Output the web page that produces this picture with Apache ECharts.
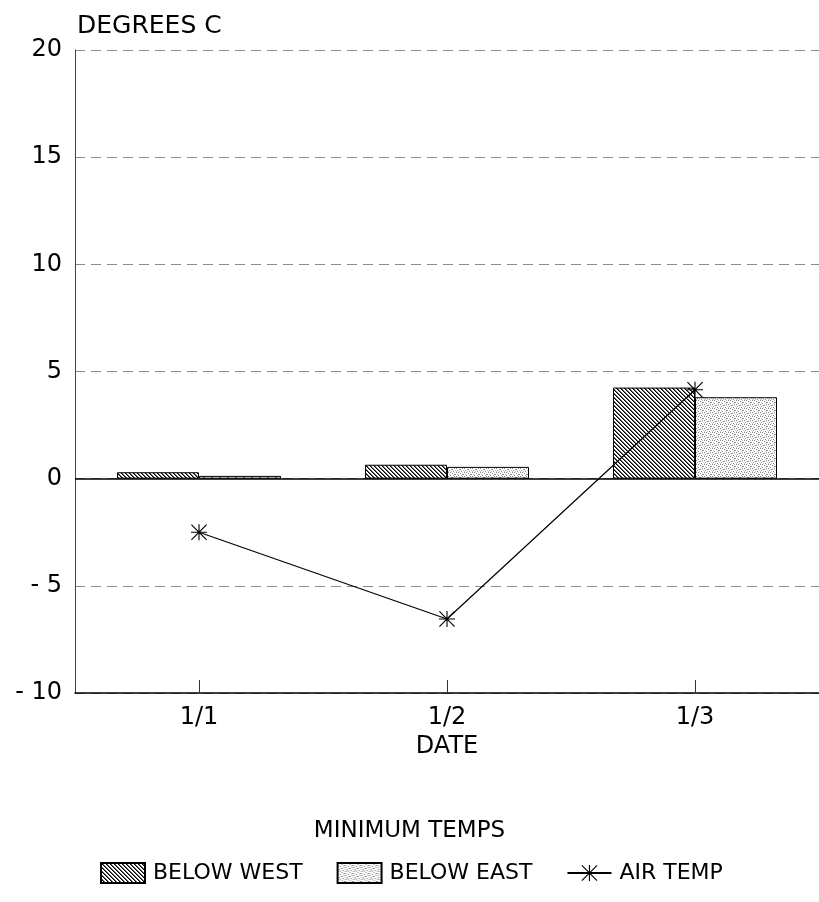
<!DOCTYPE html>
<html>
<head>
<meta charset="utf-8">
<script src="https://cdn.jsdelivr.net/npm/echarts@6/dist/echarts.min.js"></script>
<style>
html,body{margin:0;padding:0;background:#fff;}
#chart{width:819px;height:902px;}
</style>
</head>
<body>
<div id="chart"></div>
<script>
const categories = ['1/1', '1/2', '1/3'];
const belowWest = [0.3, 0.65, 4.25];
const belowEast = [0.13, 0.55, 3.8];
const airTemp = [-2.5, -6.55, 4.15];
const seriesNames = ['BELOW WEST', 'BELOW EAST', 'AIR TEMP'];
const yMin = -10, yMax = 20, yStep = 5;

function hatchPattern() {
  const c = document.createElement('canvas');
  c.width = 4; c.height = 4;
  const g = c.getContext('2d');
  g.fillStyle = '#fff'; g.fillRect(0, 0, 4, 4);
  for (let i = 0; i < 4; i++) {
    g.fillStyle = '#000'; g.fillRect(i, i, 1, 1);
    g.fillStyle = '#666'; g.fillRect((i + 1) % 4, i, 1, 1);
  }
  return c;
}
function stipplePattern() {
  const c = document.createElement('canvas');
  c.width = 8; c.height = 8;
  const g = c.getContext('2d');
  g.fillStyle = '#fff'; g.fillRect(0, 0, 8, 8);
  g.fillStyle = '#888';
  [[0,0],[4,1],[2,3],[6,4],[1,6],[5,7],[3,5],[7,2],[2,0],[6,2],[0,4],[4,5]].forEach(p => g.fillRect(p[0], p[1], 1, 1));
  g.fillStyle = '#c8c8c8';
  [[6,0],[7,6],[1,2],[5,3],[3,7],[0,7]].forEach(p => g.fillRect(p[0], p[1], 1, 1));
  return c;
}

const FONT = 'DejaVu Sans';
const star = 'path://M9.3 0h1.4v20h-1.4Z M0 9.3h20v1.4h-20Z M1 0L20 19L19 20L0 1Z M19 0L20 1L1 20L0 19Z';

const chart = echarts.init(document.getElementById('chart'), null, {renderer: 'canvas'});
chart.setOption({
  animation: false,
  backgroundColor: '#fff',
  textStyle: {fontFamily: FONT, color: '#000'},
  title: {
    text: 'DEGREES C', left: 72, top: 9,
    textStyle: {fontFamily: FONT, fontSize: 25, fontWeight: 'normal', color: '#000'}
  },
  graphic: [{
    type: 'text', left: 'center', top: 820,
    style: {text: 'MINIMUM TEMPS', fontFamily: FONT, fontSize: 23, fill: '#000'}
  }],
  legend: {
    left: 95, top: 857, itemWidth: 44, itemHeight: 20, itemGap: 34,
    data: [
      {name: seriesNames[0], icon: 'rect'},
      {name: seriesNames[1], icon: 'rect'},
      {name: seriesNames[2]}
    ],
    textStyle: {fontFamily: FONT, fontSize: 22, color: '#000', padding: [0, 0, 0, 3]}
  },
  grid: {left: 75, top: 50, width: 747, height: 643, containLabel: false},
  xAxis: {
    type: 'category', data: categories, position: 'bottom',
    name: 'DATE', nameLocation: 'middle', nameGap: 33,
    nameTextStyle: {fontFamily: FONT, fontSize: 24, color: '#000'},
    axisLine: {onZero: false, lineStyle: {color: '#000', width: 1.5}},
    axisTick: {show: true, inside: true, length: 13, alignWithLabel: true, lineStyle: {color: '#333'}},
    axisLabel: {fontFamily: FONT, fontSize: 24, color: '#000', margin: 13},
    splitLine: {show: false}
  },
  yAxis: {
    type: 'value', min: yMin, max: yMax, interval: yStep,
    axisLine: {show: true, lineStyle: {color: '#444', width: 1}},
    axisTick: {show: false},
    axisLabel: {
      fontFamily: FONT, fontSize: 24, color: '#000', margin: 13,
      formatter: v => v < 0 ? '- ' + Math.abs(v) : String(v)
    },
    splitLine: {show: true, lineStyle: {color: '#888', type: [10, 6], width: 1}}
  },
  series: [
    {
      name: seriesNames[0], type: 'bar', data: belowWest, barWidth: 82, barGap: '0%',
      itemStyle: {color: {image: hatchPattern(), repeat: 'repeat'}, borderColor: '#000', borderWidth: 1},
      markLine: {
        silent: true, symbol: 'none', label: {show: false},
        lineStyle: {color: '#000', type: 'solid', width: 1.5},
        data: [{yAxis: 0}]
      }
    },
    {
      name: seriesNames[1], type: 'bar', data: belowEast, barWidth: 82,
      itemStyle: {color: {image: stipplePattern(), repeat: 'repeat'}, borderColor: '#000', borderWidth: 1}
    },
    {
      name: seriesNames[2], type: 'line', data: airTemp, z: 5,
      symbol: star, symbolSize: 16, showAllSymbol: true,
      lineStyle: {color: '#000', width: 1.2},
      itemStyle: {color: '#000'}
    }
  ]
});
</script>
</body>
</html>
